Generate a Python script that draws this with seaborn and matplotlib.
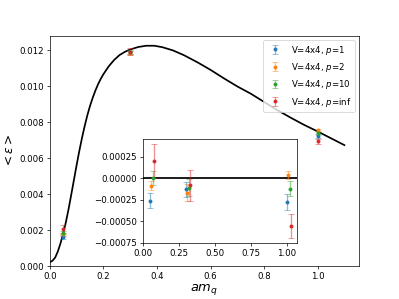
import numpy as np
import pandas as pd
import matplotlib
matplotlib.use('Agg')
import matplotlib.pyplot as plt
import seaborn as sns

# curve
curve_x = [0.00, 0.01, 0.02, 0.03, 0.04, 0.05, 0.06, 0.07, 0.08, 0.09, 0.10,
           0.11, 0.12, 0.13, 0.14, 0.15, 0.16, 0.17, 0.18, 0.19, 0.20, 0.22,
           0.24, 0.26, 0.28, 0.30, 0.33, 0.36, 0.39, 0.42, 0.46, 0.50, 0.55,
           0.60, 0.65, 0.70, 0.75, 0.80, 0.85, 0.90, 0.95, 1.00, 1.05, 1.10]
curve_y = [0.00022, 0.00030, 0.00048, 0.00082, 0.00128, 0.00182, 0.00245,
           0.00318, 0.00398, 0.00480, 0.00562, 0.00640, 0.00712, 0.00778,
           0.00838, 0.00890, 0.00935, 0.00975, 0.01010, 0.01040, 0.01066,
           0.01110, 0.01145, 0.01172, 0.01190, 0.01203, 0.01217, 0.01224,
           0.01224, 0.01216, 0.01198, 0.01172, 0.01133, 0.01090, 0.01043,
           0.00998, 0.00958, 0.00912, 0.00866, 0.00824, 0.00784, 0.00748,
           0.00710, 0.00672]

# lattice data
am_q = [0.05, 0.3, 1.0]
labels = ['V=4x4, $p$=1', 'V=4x4, $p$=2', 'V=4x4, $p$=10', 'V=4x4, $p$=inf']
eps_p1 = [0.00160, 0.01187, 0.00723]
eps_p2 = [0.00178, 0.01185, 0.00754]
eps_p10 = [0.00186, 0.01190, 0.00738]
eps_pinf = [0.00206, 0.01192, 0.00694]
err_p1 = [0.00009, 0.00009, 0.00009]
err_p2 = [0.00005, 0.00010, 0.00005]
err_p10 = [0.00008, 0.00010, 0.00009]
err_pinf = [0.00020, 0.00018, 0.00014]

# difference to the curve (inset)
diff_p1 = [-0.00026, -0.00013, -0.000275]
diff_p2 = [-0.000085, -0.00017, 0.000035]
diff_p10 = [0.0, -0.00011, -0.00012]
diff_pinf = [0.00020, -0.00008, -0.00056]
shift = [0.0, 0.01, 0.02, 0.03]

eps = [eps_p1, eps_p2, eps_p10, eps_pinf]
errs = [err_p1, err_p2, err_p10, err_pinf]
diffs = [diff_p1, diff_p2, diff_p10, diff_pinf]
colors = sns.color_palette('tab10', 4)

fig = plt.figure(figsize=(6.4, 4.8), dpi=399 / 6.4)
ax = fig.add_subplot(111)

df = pd.DataFrame({'x': curve_x, 'y': curve_y})
sns.lineplot(data=df, x='x', y='y', color='k', lw=2, ax=ax)


def err_plot(a, x, y, e, c, lab=None):
    eb = a.errorbar(x, y, yerr=e, fmt='o', ms=3.5, capsize=3, color=c, label=lab)
    for art in list(eb[1]) + list(eb[2]):
        art.set_alpha(0.5)
    return eb


for i in range(4):
    err_plot(ax, am_q, eps[i], errs[i], colors[i], labels[i])

ax.set_xlim(0, 1.155)
ax.set_ylim(0, 0.0128)
ax.set_xlabel('$am_q$', fontsize=15, labelpad=1)
ax.set_ylabel(r'$< \epsilon >$', fontsize=14)
ax.legend(loc='upper right')

ins = fig.add_axes([0.358, 0.188, 0.386, 0.348])
ins.axhline(0, color='k', lw=2)
for i in range(4):
    xs = [x + shift[i] for x in am_q]
    err_plot(ins, xs, diffs[i], errs[i], colors[i])
ins.set_xlim(0, 1.07)
ins.set_ylim(-0.00075, 0.00046)
ins.set_yticks([-0.00075, -0.0005, -0.00025, 0.0, 0.00025])

fig.savefig('out.png', dpi=399 / 6.4)
